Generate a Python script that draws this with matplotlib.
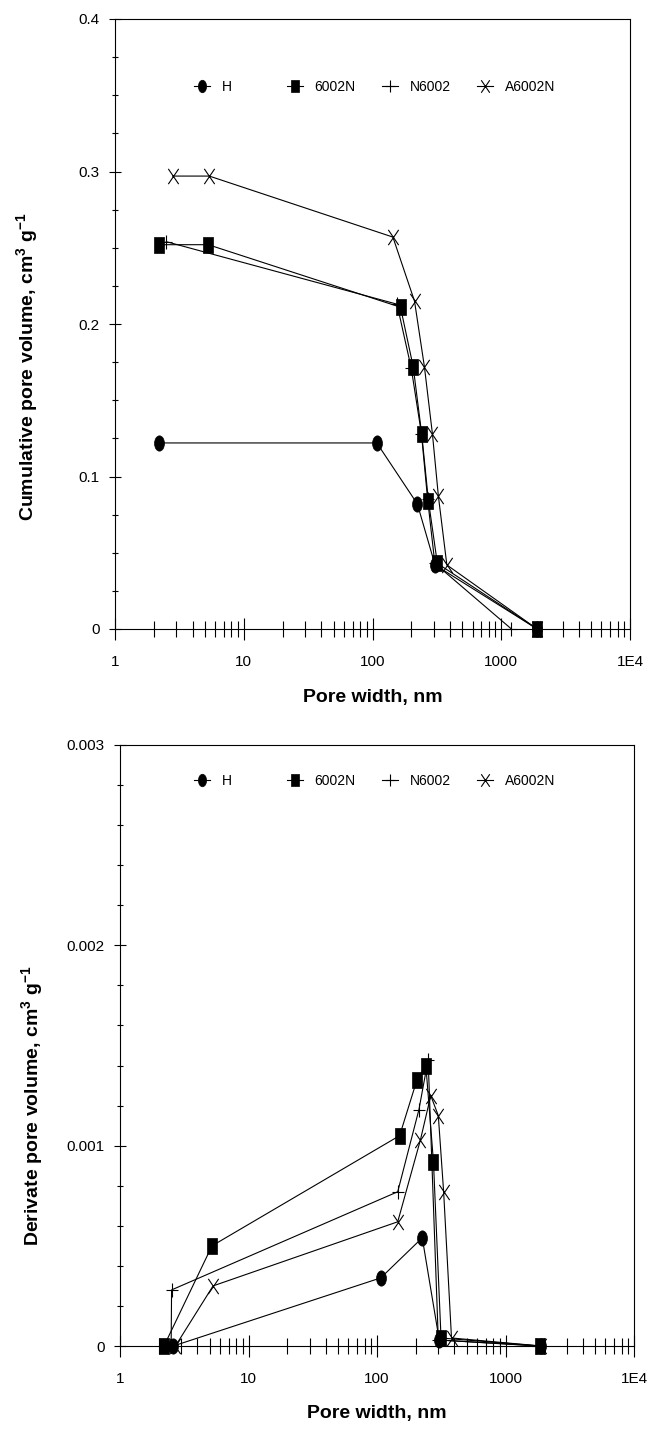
import numpy as np
import matplotlib
matplotlib.use('Agg')
import matplotlib.pyplot as plt
from matplotlib.path import Path
from matplotlib.lines import Line2D
from matplotlib.ticker import FixedLocator, NullFormatter, MultipleLocator

plt.rcParams['font.family'] = ['Liberation Sans', 'DejaVu Sans']
plt.rcParams['mathtext.default'] = 'regular'

# ---------------- data ----------------
series_names = ['H', '6002N', 'N6002', 'A6002N']

# Cumulative pore volume (top panel)
cum_x_H = [2.2, 108, 223, 306, 1900]
cum_y_H = [0.122, 0.122, 0.082, 0.042, 0.0]
cum_x_6002N = [2.2, 5.3, 165, 207, 241, 272, 319, 1900]
cum_y_6002N = [0.252, 0.252, 0.211, 0.172, 0.128, 0.084, 0.043, 0.0]
cum_x_N6002 = [2.5, 155, 200, 240, 268, 305, 1200]
cum_y_N6002 = [0.254, 0.213, 0.171, 0.128, 0.085, 0.043, 0.0]
cum_x_A6002N = [2.8, 5.4, 144, 212, 253, 292, 325, 378, 1900]
cum_y_A6002N = [0.297, 0.297, 0.257, 0.215, 0.172, 0.128, 0.087, 0.042, 0.0]

# Derivative pore volume (bottom panel)
der_x_H = [2.6, 107, 225, 305, 1900]
der_y_H = [0.0, 0.00034, 0.00054, 0.00003, 0.0]
der_x_6002N = [2.2, 5.2, 150, 205, 240, 275, 315, 1850]
der_y_6002N = [0.0, 0.0005, 0.00105, 0.00133, 0.0014, 0.00092, 0.00004, 0.0]
der_x_N6002 = [2.5, 2.52, 145, 212, 250, 300, 1800]
der_y_N6002 = [0.0, 0.00028, 0.00077, 0.00118, 0.00143, 0.00003, 0.0]
der_x_A6002N = [2.7, 5.3, 145, 218, 262, 300, 330, 380, 1900]
der_y_A6002N = [0.0, 0.0003, 0.00062, 0.00103, 0.00125, 0.00115, 0.00077, 0.00004, 0.0]

x_tick_vals = [1, 10, 100, 1000, 10000]
x_tick_labels = ['1', '10', '100', '1000', '1E4']
top_y_ticks = [0, 0.1, 0.2, 0.3, 0.4]
top_y_labels = ['0', '0.1', '0.2', '0.3', '0.4']
bot_y_ticks = [0, 0.001, 0.002, 0.003]
bot_y_labels = ['0', '0.001', '0.002', '0.003']

# ---------------- markers ----------------
uc = Path.unit_circle()
ell = Path(uc.vertices * np.array([0.65, 1.0]), uc.codes)
rect = Path([(-0.31, -0.5), (0.31, -0.5), (0.31, 0.5), (-0.31, 0.5), (-0.31, -0.5)],
            [Path.MOVETO, Path.LINETO, Path.LINETO, Path.LINETO, Path.CLOSEPOLY])
plus = Path([(-0.42, 0), (0.42, 0), (0, -0.5), (0, 0.5)],
            [Path.MOVETO, Path.LINETO, Path.MOVETO, Path.LINETO])
xmk = Path([(-0.34, -0.5), (0.34, 0.5), (-0.34, 0.5), (0.34, -0.5)],
           [Path.MOVETO, Path.LINETO, Path.MOVETO, Path.LINETO])

styles = {
    'H': dict(marker=ell, ms=11, mfc='k', mec='k', mew=0.5),
    '6002N': dict(marker=rect, ms=11, mfc='k', mec='k', mew=0.5),
    'N6002': dict(marker=plus, ms=10, mfc='none', mec='k', mew=0.8),
    'A6002N': dict(marker=xmk, ms=11, mfc='none', mec='k', mew=0.8),
}

top_data = {'H': (cum_x_H, cum_y_H), '6002N': (cum_x_6002N, cum_y_6002N),
            'N6002': (cum_x_N6002, cum_y_N6002), 'A6002N': (cum_x_A6002N, cum_y_A6002N)}
bot_data = {'H': (der_x_H, der_y_H), '6002N': (der_x_6002N, der_y_6002N),
            'N6002': (der_x_N6002, der_y_N6002), 'A6002N': (der_x_A6002N, der_y_A6002N)}

W, H = 649, 1430
fig = plt.figure(figsize=(W / 100, H / 100), dpi=100)

ax1 = fig.add_axes([115 / W, 1 - 629 / H, 515 / W, 610 / H])
ax2 = fig.add_axes([120 / W, 1 - 1346 / H, 514 / W, 601 / H])


def style_axes(ax, data, yticks, ylabels, yminor, ylabel, ylab_y):
    for name in series_names:
        xs, ys = data[name]
        ax.plot(xs, ys, color='k', lw=0.8, clip_on=False, zorder=3, **styles[name])
    ax.set_xscale('log')
    ax.set_xlim(1, 10000)
    ax.set_ylim(yticks[0], yticks[-1])
    ax.set_xticks(x_tick_vals, x_tick_labels)
    ax.xaxis.set_minor_locator(FixedLocator(
        [d * s for d in [1, 10, 100, 1000] for s in range(2, 10)]))
    ax.xaxis.set_minor_formatter(NullFormatter())
    ax.set_yticks(yticks, ylabels)
    ax.yaxis.set_minor_locator(MultipleLocator(yminor))
    ax.tick_params(axis='x', which='major', direction='inout', length=16,
                   width=0.8, pad=11, labelsize=11)
    ax.tick_params(axis='x', which='minor', direction='inout', length=11, width=0.8)
    ax.tick_params(axis='y', which='major', direction='inout', length=8,
                   width=0.8, pad=7, labelsize=11)
    ax.tick_params(axis='y', which='minor', direction='inout', length=5, width=0.8)
    for sp in ax.spines.values():
        sp.set_linewidth(0.8)
    ax.set_xlabel('Pore width, nm', fontsize=14, fontweight='bold')
    ax.xaxis.set_label_coords(0.5, -0.098)
    ax.set_ylabel(ylabel, fontsize=14, fontweight='bold')
    ax.yaxis.set_label_coords(-0.145, ylab_y)


style_axes(ax1, top_data, top_y_ticks, top_y_labels, 0.025,
           r'Cumulative pore volume, cm$^{3}$ g$^{-1}$', 0.43)
style_axes(ax2, bot_data, bot_y_ticks, bot_y_labels, 0.0002,
           r'Derivate pore volume, cm$^{3}$ g$^{-1}$', 0.40)

# legends: one entry each, laid out in a row
leg_x = [193.7, 286.7, 381.7, 476.7]
for leg_y in [87, 781]:
    for name, lx in zip(series_names, leg_x):
        st = dict(styles[name])
        st['ms'] = 9
        h = Line2D([], [], color='k', lw=0.8, **st)
        fig.legend(handles=[h], labels=[name], loc='center left',
                   bbox_to_anchor=(lx / W, 1 - leg_y / H), bbox_transform=fig.transFigure,
                   frameon=False, borderpad=0, borderaxespad=0, handlelength=1.2,
                   handletextpad=0.8, fontsize=10, numpoints=1)

fig.savefig('out.png', dpi=100)
